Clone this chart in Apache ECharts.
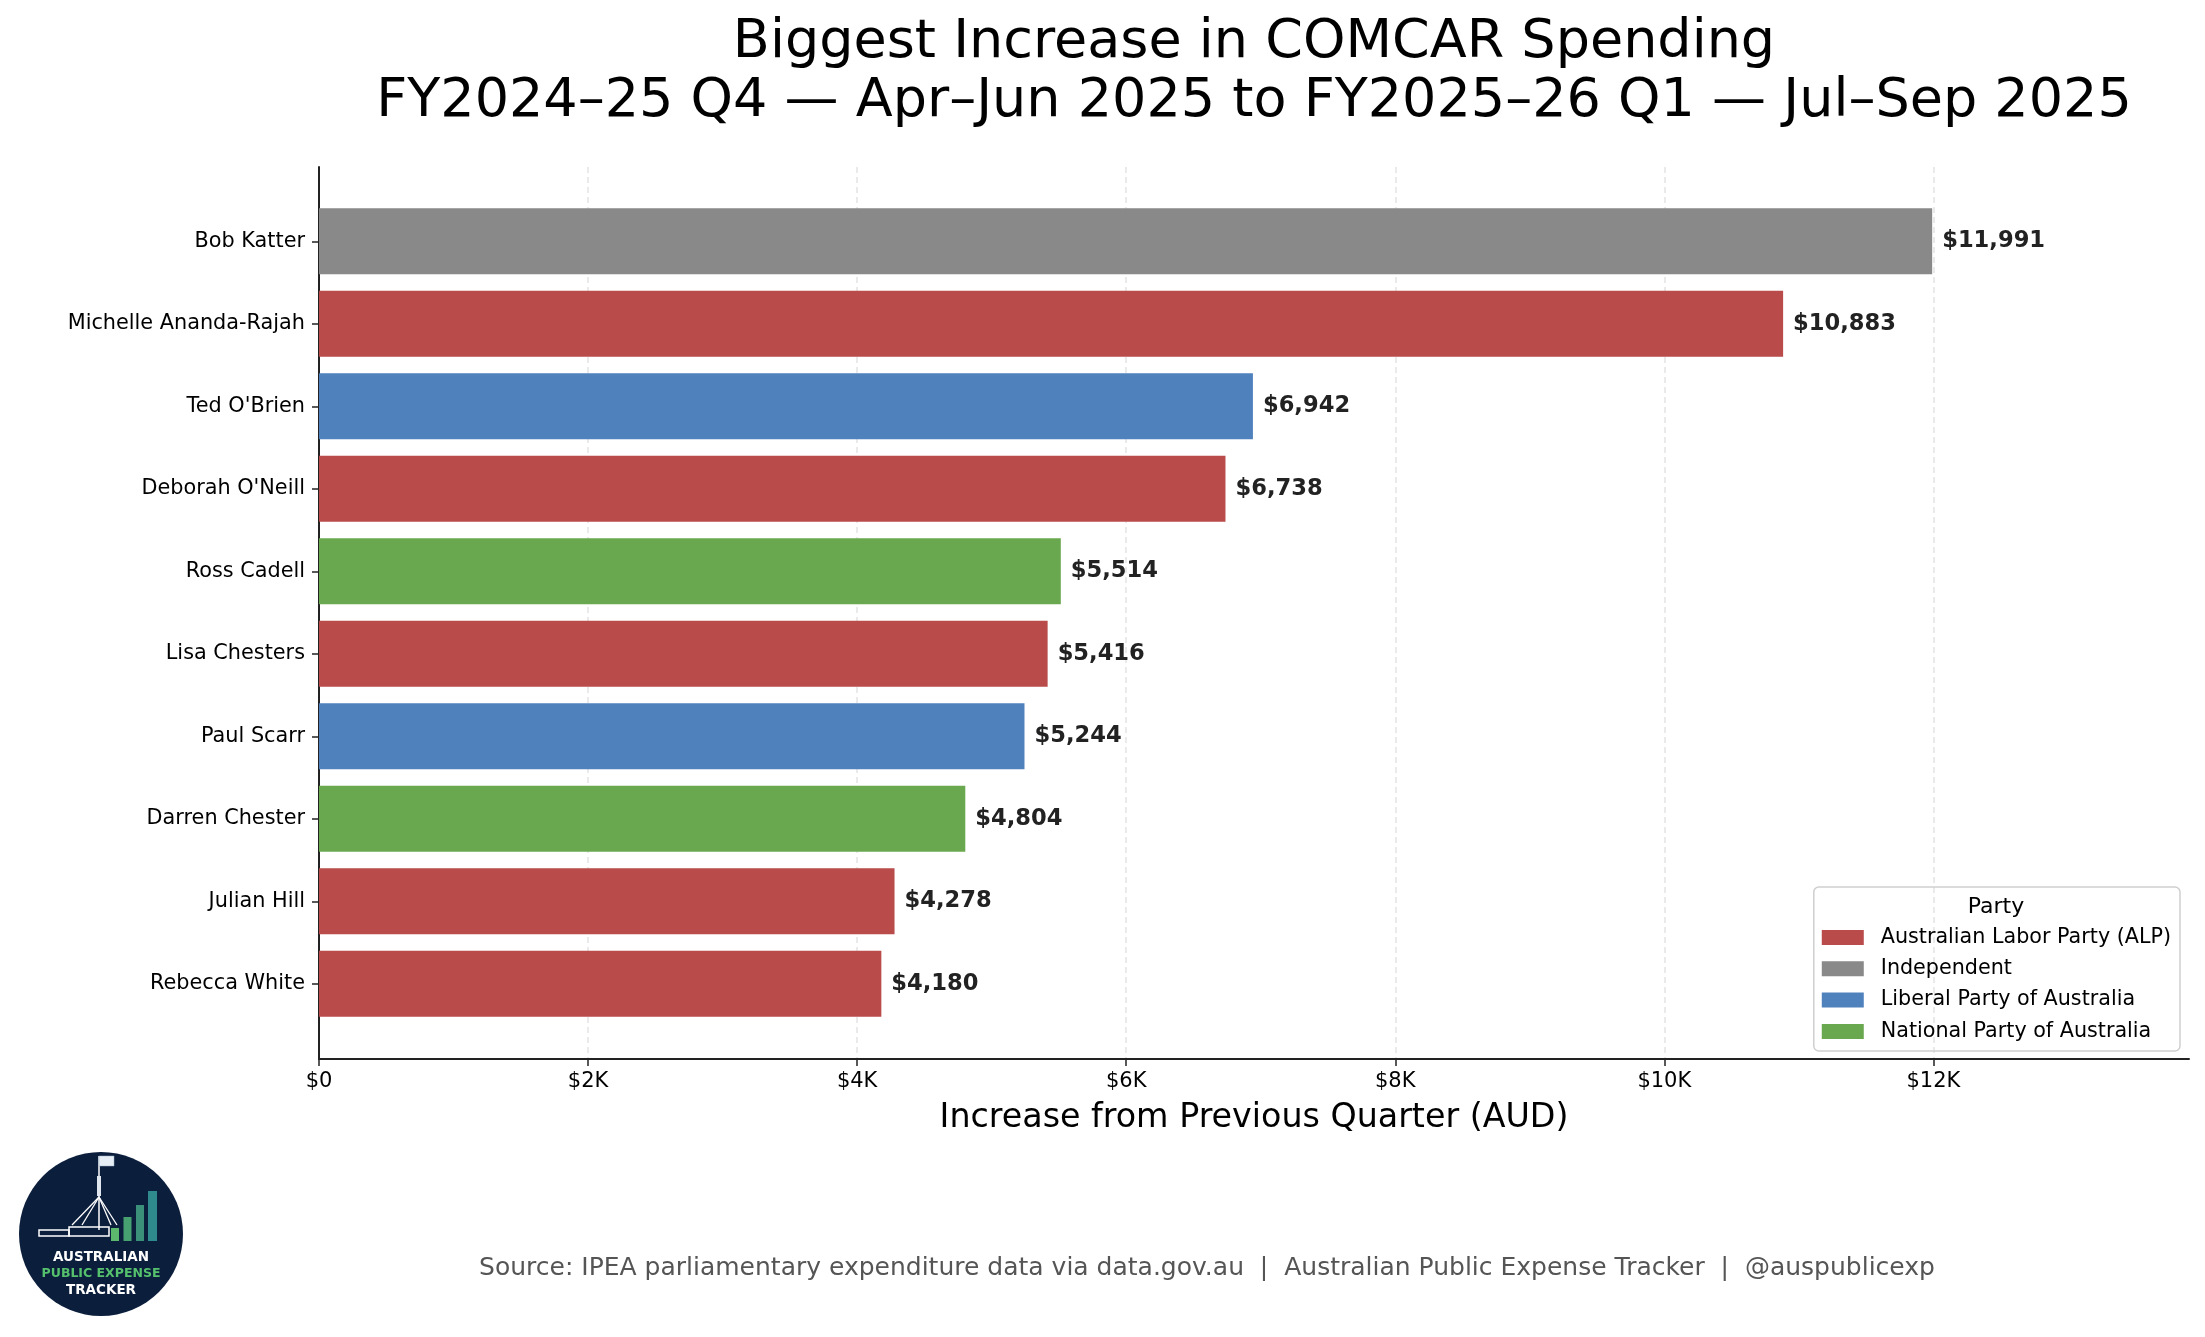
<!DOCTYPE html>
<html>
<head>
<meta charset="utf-8">
<title>Biggest Increase in COMCAR Spending</title>
<script src="https://cdn.jsdelivr.net/npm/echarts@6/dist/echarts.min.js"></script>
<style>
    html, body {margin: 0; padding: 0; background: #fff;}
    #chart {width: 2205px; height: 1337px;}
</style>
</head>
<body>
<div id="chart"></div>
<script>
// data
var members = ['Bob Katter', 'Michelle Ananda-Rajah', "Ted O'Brien", "Deborah O'Neill", 'Ross Cadell',
    'Lisa Chesters', 'Paul Scarr', 'Darren Chester', 'Julian Hill', 'Rebecca White'];
var increases = [11991, 10883, 6942, 6738, 5514, 5416, 5244, 4804, 4278, 4180];
var memberParty = ['Independent', 'Australian Labor Party (ALP)', 'Liberal Party of Australia',
    'Australian Labor Party (ALP)', 'National Party of Australia', 'Australian Labor Party (ALP)',
    'Liberal Party of Australia', 'National Party of Australia', 'Australian Labor Party (ALP)',
    'Australian Labor Party (ALP)'];
var parties = ['Australian Labor Party (ALP)', 'Independent', 'Liberal Party of Australia', 'National Party of Australia'];
var partyColors = ['#b94b4a', '#898989', '#4f81bd', '#6aa84f'];
var xTicks = [0, 2000, 4000, 6000, 8000, 10000, 12000];

var FONT = '"DejaVu Sans", "Liberation Sans", sans-serif';

function money(v) {
    return '$' + Number(v).toLocaleString('en-US');
}
function kLabel(v) {
    return v === 0 ? '$0' : '$' + (v / 1000) + 'K';
}

//one stacked series per party, '-' where a member is not in it
var series = parties.map(function (p, i) {
    return {
        name: p,
        type: 'bar',
        xAxisIndex: 1,
        yAxisIndex: 1,
        stack: 'all',
        barWidth: '80%',
        itemStyle: {color: partyColors[i]},
        label: {
            show: true,
            position: 'right',
            distance: 10,
            formatter: function (o) { return money(o.value); },
            fontFamily: FONT,
            fontWeight: 'bold',
            fontSize: 22.6,
            color: '#222'
        },
        data: increases.map(function (v, k) { return memberParty[k] === p ? v : '-'; })
    };
});

var chart = echarts.init(document.getElementById('chart'), null, {renderer: 'canvas'});
var option = {
    backgroundColor: '#ffffff',
    animation: false,
    grid: [
        {left: 319, right: 16, top: 167, bottom: 278},
        {left: 319, right: 16, top: 200, bottom: 312}
    ],
    xAxis: [{
        gridIndex: 0,
        type: 'value',
        min: 0,
        max: 13900,
        interval: 2000,
        axisLine: {show: true, lineStyle: {color: '#222', width: 2}},
        axisTick: {show: true, customValues: xTicks, length: 7, lineStyle: {color: '#222', width: 1.5}},
        axisLabel: {
            customValues: xTicks,
            fontFamily: FONT, fontSize: 21, color: '#000', margin: 12,
            formatter: function (v) { return kLabel(v); }
        },
        splitLine: {show: true, lineStyle: {color: '#e3e3e3', width: 1.5, type: [6, 4]}},
        name: 'Increase from Previous Quarter (AUD)',
        nameLocation: 'middle',
        nameGap: 43,
        nameTextStyle: {fontFamily: FONT, fontSize: 33.3, color: '#000'}
    }, {
        gridIndex: 1,
        type: 'value',
        min: 0,
        max: 13900,
        show: false
    }],
    yAxis: [{
        gridIndex: 0,
        type: 'value',
        min: 0,
        max: 1,
        axisLine: {show: true, lineStyle: {color: '#222', width: 2}},
        axisTick: {show: false},
        axisLabel: {show: false},
        splitLine: {show: false}
    }, {
        gridIndex: 1,
        type: 'category',
        inverse: true,
        data: members,
        axisLine: {show: false},
        axisTick: {show: true, alignWithLabel: true, length: 7, lineStyle: {color: '#222', width: 1.5}},
        axisLabel: {fontFamily: FONT, fontSize: 20.8, color: '#000', margin: 14},
        splitLine: {show: false}
    }],
    legend: {
        orient: 'vertical',
        right: 25,
        top: 887,
        data: parties,
        icon: 'rect',
        itemWidth: 42,
        itemHeight: 15,
        itemGap: 10.3,
        borderColor: '#cfcfcf',
        borderWidth: 1.5,
        borderRadius: 5,
        padding: [40, 9, 9, 8],
        textStyle: {fontFamily: FONT, fontSize: 20.7, color: '#000', lineHeight: 20, padding: [0, 0, 0, 12]}
    },
    series: series,
    graphic: [
        {
            type: 'text', x: 1254, y: 43,
            style: {text: 'Biggest Increase in COMCAR Spending', textAlign: 'center', textVerticalAlign: 'middle',
                font: '54px ' + FONT, fill: '#000'}
        },
        {
            type: 'text', x: 1254, y: 102,
            style: {text: 'FY2024–25 Q4 — Apr–Jun 2025 to FY2025–26 Q1 — Jul–Sep 2025', textAlign: 'center',
                textVerticalAlign: 'middle', font: '54px ' + FONT, fill: '#000'}
        },
        {
            type: 'text', x: 1996, y: 907,
            style: {text: 'Party', textAlign: 'center', textVerticalAlign: 'middle', font: '22px ' + FONT, fill: '#000'}
        },
        {
            type: 'text', x: 1207, y: 1268,
            style: {text: 'Source: IPEA parliamentary expenditure data via data.gov.au  |  Australian Public Expense Tracker  |  @auspublicexp',
                textAlign: 'center', textVerticalAlign: 'middle', font: '25px ' + FONT, fill: '#555'}
        },
        //logo
        {type: 'circle', shape: {cx: 101, cy: 1234, r: 82}, style: {fill: '#0b1e3c'}},
        {type: 'line', shape: {x1: 99, y1: 1156, x2: 99, y2: 1230}, style: {stroke: '#fff', lineWidth: 1.5}},
        {type: 'rect', shape: {x: 99, y: 1156, width: 15, height: 10}, style: {fill: '#e8eef5', stroke: '#9fb2c8', lineWidth: 0.5}},
        {type: 'rect', shape: {x: 97, y: 1176, width: 4, height: 20}, style: {fill: '#dfe6ee'}},
        {type: 'polyline', shape: {points: [[99, 1197], [72, 1225]]}, style: {stroke: '#fff', lineWidth: 1.3}},
        {type: 'polyline', shape: {points: [[99, 1197], [82, 1225]]}, style: {stroke: '#fff', lineWidth: 1.3}},
        {type: 'polyline', shape: {points: [[99, 1197], [111, 1225]]}, style: {stroke: '#fff', lineWidth: 1.3}},
        {type: 'polyline', shape: {points: [[99, 1197], [117, 1225]]}, style: {stroke: '#fff', lineWidth: 1.3}},
        {type: 'rect', shape: {x: 39, y: 1230, width: 30, height: 6}, style: {fill: 'none', stroke: '#fff', lineWidth: 1.5}},
        {type: 'rect', shape: {x: 69, y: 1227, width: 40, height: 9}, style: {fill: 'none', stroke: '#fff', lineWidth: 1.5}},
        {type: 'rect', shape: {x: 111, y: 1228, width: 8, height: 13}, style: {fill: '#5cb86c'}},
        {type: 'rect', shape: {x: 123.5, y: 1217, width: 8, height: 24}, style: {fill: '#46a070'}},
        {type: 'rect', shape: {x: 136, y: 1205, width: 8, height: 36}, style: {fill: '#3a9078'}},
        {type: 'rect', shape: {x: 148, y: 1191, width: 9, height: 50}, style: {fill: '#2e8a8c'}},
        {
            type: 'text', x: 101, y: 1257,
            style: {text: 'AUSTRALIAN', textAlign: 'center', textVerticalAlign: 'middle',
                font: 'bold 13.5px ' + FONT, fill: '#fff'}
        },
        {
            type: 'text', x: 101, y: 1274,
            style: {text: 'PUBLIC EXPENSE', textAlign: 'center', textVerticalAlign: 'middle',
                font: 'bold 12.5px ' + FONT, fill: '#55c16d'}
        },
        {
            type: 'text', x: 101, y: 1290,
            style: {text: 'TRACKER', textAlign: 'center', textVerticalAlign: 'middle',
                font: 'bold 13.5px ' + FONT, fill: '#fff'}
        }
    ]
};
chart.setOption(option);
</script>
</body>
</html>
